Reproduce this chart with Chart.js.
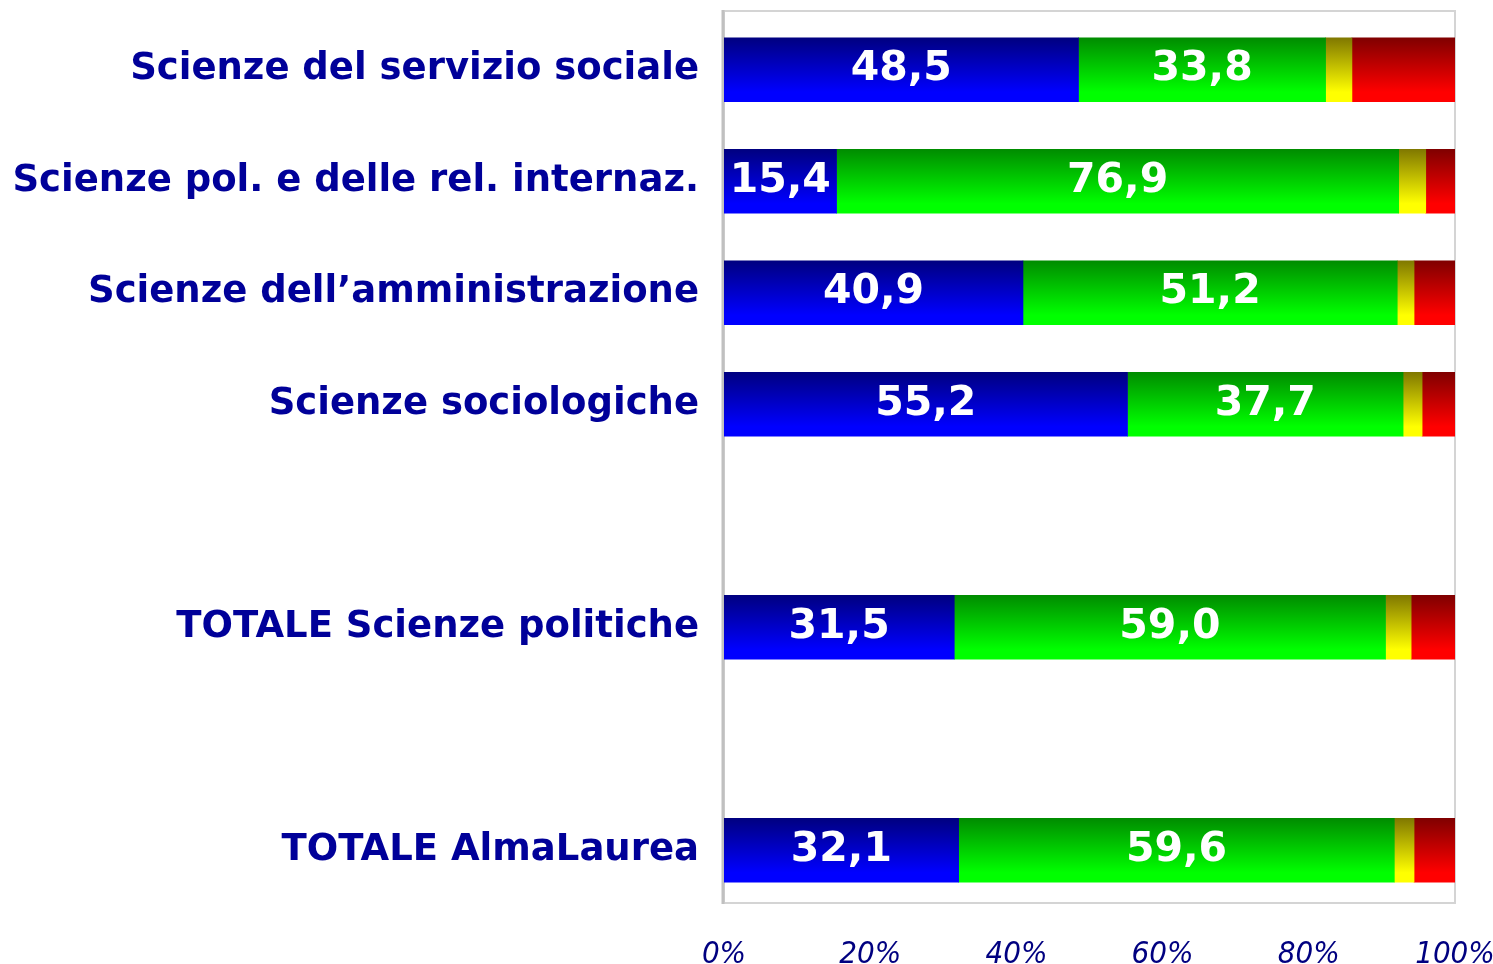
<!DOCTYPE html>
<html>
<head>
<meta charset="utf-8">
<script src="https://cdn.jsdelivr.net/npm/chart.js@4.4.1/dist/chart.umd.min.js"></script>
<style>
  html, body { margin: 0; padding: 0; background: #fff; }
  #wrap { width: 1493px; height: 964px; }
</style>
</head>
<body>
<div id="wrap"><canvas id="chart"></canvas></div>
<script>
// corsi di laurea (le righe vuote separano i totali)
const categories = [
    'Scienze del servizio sociale',
    'Scienze pol. e delle rel. internaz.',
    'Scienze dell\u2019amministrazione',
    'Scienze sociologiche',
    '',
    'TOTALE Scienze politiche',
    '',
    'TOTALE AlmaLaurea'
];
const blueValues   = [48.5, 15.4, 40.9, 55.2, null, 31.5, null, 32.1];
const greenValues  = [33.8, 76.9, 51.2, 37.7, null, 59.0, null, 59.6];
const yellowValues = [3.6, 3.7, 2.3, 2.6, null, 3.5, null, 2.7];
const redValues    = [14.1, 4.0, 5.6, 4.5, null, 6.0, null, 5.6];
const tickLabels   = ['0%', '20%', '40%', '60%', '80%', '100%'];

const BAR_H = 64;

// sfumatura verticale: scuro in alto, pieno in basso
function gradient(dark, bright) {
    return (context) => {
        const chart = context.chart;
        const yScale = chart.scales.y;
        if (!yScale || context.dataIndex === undefined) return bright;
        const yc = yScale.getPixelForValue(context.dataIndex);
        if (!isFinite(yc)) return bright;
        const g = chart.ctx.createLinearGradient(0, yc - BAR_H / 2, 0, yc + BAR_H / 2);
        g.addColorStop(0, dark);
        g.addColorStop(0.85, bright);
        g.addColorStop(1, bright);
        return g;
    };
}

// etichette bianche dentro i segmenti blu e verde
const valueLabels = {
    id: 'valueLabels',
    afterDatasetsDraw(chart) {
        const ctx = chart.ctx;
        ctx.save();
        ctx.fillStyle = '#ffffff';
        ctx.font = 'bold 41px "DejaVu Sans"';
        ctx.textAlign = 'center';
        ctx.textBaseline = 'middle';
        [0, 1].forEach(di => {
            const meta = chart.getDatasetMeta(di);
            meta.data.forEach((bar, i) => {
                const v = chart.data.datasets[di].data[i];
                if (v === null) return;
                const cx = (bar.x + bar.base) / 2;
                ctx.fillText(v.toFixed(1).replace('.', ','), cx, bar.y);
            });
        });
        ctx.restore();
    }
};

// bordo grigio chiaro dell'area del grafico
const plotFrame = {
    id: 'plotFrame',
    beforeDatasetsDraw(chart) {
        const a = chart.chartArea;
        const top = a.top - 3, bottom = a.bottom - 3;
        const ctx = chart.ctx;
        ctx.save();
        ctx.strokeStyle = '#d4d4d4';
        ctx.lineWidth = 2;
        ctx.strokeRect(a.left, top, a.right - a.left, bottom - top);
        ctx.strokeStyle = '#c0c0c0';
        ctx.lineWidth = 3;
        ctx.beginPath();
        ctx.moveTo(a.left - 1, top - 1);
        ctx.lineTo(a.left - 1, bottom + 1);
        ctx.stroke();
        ctx.restore();
    }
};

const ctx = document.getElementById('chart').getContext('2d');
new Chart(ctx, {
    type: 'bar',
    data: {
        labels: categories,
        datasets: [
            { data: blueValues,   backgroundColor: gradient('#000080', '#0000ff') },
            { data: greenValues,  backgroundColor: gradient('#008c00', '#00ff00') },
            { data: yellowValues, backgroundColor: gradient('#807800', '#ffff00') },
            { data: redValues,    backgroundColor: gradient('#800000', '#ff0000') }
        ]
    },
    options: {
        indexAxis: 'y',
        responsive: true,
        maintainAspectRatio: false,
        animation: false,
        barThickness: BAR_H,
        layout: { padding: { top: 14, right: 38, left: 0, bottom: 0 }, autoPadding: false },
        scales: {
            x: {
                stacked: true,
                min: 0,
                max: 100,
                afterBuildTicks: (scale) => {
                    scale.ticks = tickLabels.map((t, i) => ({ value: i * 20 }));
                },
                afterFit: (scale) => {
                    scale.height = 58;
                    scale.paddingLeft = 0;
                    scale.paddingRight = 0;
                },
                grid: { display: false, drawTicks: false },
                border: { display: false },
                ticks: {
                    padding: 30,
                    maxRotation: 0,
                    color: '#000080',
                    font: { family: '"DejaVu Sans Condensed", "DejaVu Sans"', size: 31, style: 'italic' },
                    callback: (value, i) => tickLabels[i]
                }
            },
            y: {
                stacked: true,
                afterFit: (scale) => {
                    scale.width = 724;
                    scale.paddingTop = 0;
                    scale.paddingBottom = 0;
                },
                grid: { display: false, drawTicks: false },
                border: { display: false },
                ticks: {
                    padding: 25,
                    color: '#000099',
                    font: { family: '"DejaVu Sans"', size: 37, weight: 'bold' }
                }
            }
        },
        plugins: {
            legend: { display: false },
            tooltip: { enabled: false }
        }
    },
    plugins: [plotFrame, valueLabels]
});
</script>
</body>
</html>
